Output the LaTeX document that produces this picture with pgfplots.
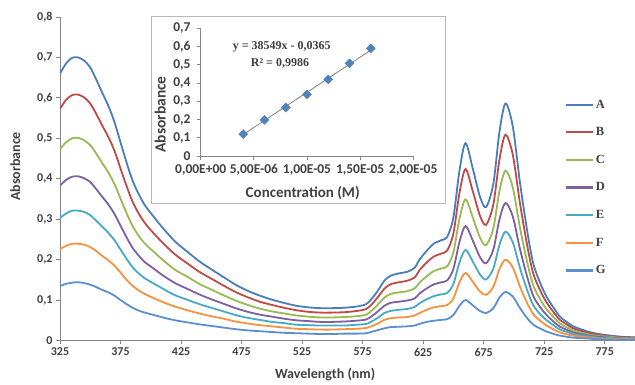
\documentclass[border=0pt]{standalone}
\usepackage{fontspec}
\setmainfont{Carlito}
\newfontfamily\tnr{Liberation Serif}
\usepackage{pgfplots}
\usepackage{pgfplotstable}
\pgfplotsset{compat=1.18}

\definecolor{serA}{HTML}{4A7EBB}
\definecolor{serB}{HTML}{BE4B48}
\definecolor{serC}{HTML}{98B954}
\definecolor{serD}{HTML}{7D60A0}
\definecolor{serE}{HTML}{46AAC5}
\definecolor{serF}{HTML}{F69240}
\definecolor{serG}{HTML}{5B8FD0}
\definecolor{axgray}{HTML}{868686}
\definecolor{txt}{HTML}{404040}
\definecolor{mk}{HTML}{4F81BD}

\pgfplotstableread{
x A B C D E F G
325 0.660 0.573 0.473 0.383 0.303 0.226 0.135
330 0.685 0.595 0.490 0.397 0.314 0.234 0.140
335 0.699 0.607 0.500 0.405 0.321 0.239 0.143
340 0.700 0.608 0.501 0.406 0.321 0.239 0.144
345 0.692 0.601 0.495 0.401 0.318 0.237 0.142
350 0.675 0.586 0.483 0.392 0.310 0.231 0.138
355 0.645 0.560 0.462 0.374 0.296 0.221 0.132
360 0.612 0.531 0.438 0.355 0.281 0.209 0.125
365 0.580 0.503 0.415 0.336 0.266 0.198 0.119
370 0.540 0.469 0.387 0.313 0.248 0.185 0.111
375 0.490 0.425 0.351 0.284 0.225 0.168 0.100
380 0.440 0.382 0.315 0.255 0.202 0.150 0.090
385 0.395 0.343 0.283 0.229 0.181 0.135 0.081
390 0.362 0.314 0.259 0.210 0.166 0.124 0.074
395 0.335 0.291 0.240 0.194 0.154 0.115 0.069
400 0.315 0.273 0.226 0.183 0.145 0.108 0.065
410 0.278 0.241 0.199 0.161 0.128 0.095 0.057
420 0.245 0.213 0.175 0.142 0.112 0.084 0.050
430 0.220 0.191 0.158 0.128 0.101 0.075 0.045
440 0.196 0.170 0.140 0.114 0.090 0.067 0.040
450 0.176 0.153 0.126 0.102 0.081 0.060 0.036
460 0.157 0.136 0.112 0.091 0.072 0.054 0.032
470 0.138 0.120 0.099 0.080 0.063 0.047 0.028
480 0.123 0.107 0.088 0.071 0.056 0.042 0.025
490 0.111 0.096 0.079 0.064 0.051 0.038 0.023
500 0.101 0.088 0.072 0.059 0.046 0.035 0.021
510 0.093 0.081 0.067 0.054 0.043 0.032 0.019
520 0.086 0.075 0.062 0.050 0.039 0.029 0.018
530 0.082 0.071 0.059 0.048 0.038 0.028 0.017
540 0.080 0.069 0.057 0.046 0.037 0.027 0.016
550 0.080 0.069 0.057 0.046 0.037 0.027 0.016
560 0.081 0.070 0.058 0.047 0.037 0.028 0.017
570 0.084 0.073 0.060 0.049 0.039 0.029 0.017
578 0.090 0.078 0.064 0.052 0.041 0.031 0.018
583 0.105 0.091 0.075 0.061 0.048 0.036 0.022
588 0.125 0.109 0.090 0.073 0.057 0.043 0.026
593 0.148 0.128 0.106 0.086 0.068 0.051 0.030
598 0.160 0.139 0.115 0.093 0.073 0.055 0.033
605 0.166 0.144 0.119 0.096 0.076 0.057 0.034
612 0.170 0.148 0.122 0.099 0.078 0.058 0.035
618 0.180 0.156 0.129 0.104 0.083 0.062 0.037
622 0.200 0.174 0.143 0.116 0.092 0.068 0.041
628 0.222 0.193 0.159 0.129 0.102 0.076 0.046
634 0.240 0.208 0.172 0.139 0.110 0.082 0.049
640 0.248 0.215 0.178 0.144 0.114 0.085 0.051
645 0.257 0.223 0.184 0.149 0.118 0.088 0.053
650 0.305 0.265 0.218 0.177 0.140 0.104 0.063
655 0.420 0.365 0.301 0.244 0.193 0.144 0.086
660 0.488 0.424 0.349 0.283 0.224 0.167 0.100
666 0.425 0.369 0.304 0.247 0.195 0.145 0.087
672 0.355 0.308 0.254 0.206 0.163 0.121 0.073
677 0.330 0.286 0.236 0.191 0.151 0.113 0.068
683 0.388 0.337 0.278 0.225 0.178 0.133 0.080
688 0.515 0.447 0.369 0.299 0.236 0.176 0.106
693 0.586 0.509 0.420 0.340 0.269 0.200 0.120
699 0.530 0.460 0.379 0.307 0.243 0.181 0.109
705 0.390 0.339 0.279 0.226 0.179 0.133 0.080
711 0.270 0.234 0.193 0.157 0.124 0.092 0.055
716 0.190 0.165 0.136 0.110 0.087 0.065 0.039
722 0.140 0.122 0.100 0.081 0.064 0.048 0.029
727 0.108 0.094 0.077 0.063 0.050 0.037 0.022
733 0.080 0.069 0.057 0.046 0.037 0.027 0.016
738 0.059 0.051 0.042 0.034 0.027 0.020 0.012
744 0.045 0.039 0.032 0.026 0.021 0.015 0.009
749 0.035 0.030 0.025 0.020 0.016 0.012 0.007
760 0.023 0.020 0.016 0.013 0.011 0.008 0.005
770 0.016 0.014 0.011 0.009 0.007 0.005 0.003
780 0.012 0.010 0.009 0.007 0.006 0.004 0.002
790 0.009 0.008 0.006 0.005 0.004 0.003 0.002
800 0.008 0.007 0.006 0.005 0.004 0.003 0.002
}\spectra

\pgfplotstableread{
c a
4e-6 0.120
6e-6 0.198
8e-6 0.266
1e-5 0.338
1.2e-5 0.420
1.4e-5 0.508
1.6e-5 0.590
}\calib

\begin{document}
\begin{tikzpicture}
\path[use as bounding box] (-60pt,-44.5pt) rectangle (575pt,340.5pt);
\begin{axis}[
  at={(0pt,0pt)}, anchor=south west,
  scale only axis, width=575pt, height=323.5pt,
  xmin=325, xmax=800, ymin=0, ymax=0.8,
  axis x line=bottom, axis y line=left,
  axis line style={axgray, line width=0.8pt, -},
  xtick={325,375,425,475,525,575,625,675,725,775},
  ytick={0,0.1,0.2,0.3,0.4,0.5,0.6,0.7,0.8},
  tick align=outside, major tick length=4pt,
  tick style={axgray, line width=0.8pt},
  ticklabel style={font=\bfseries\fontsize{12}{14}\selectfont, text=txt},
  /pgf/number format/.cd, use comma, fixed, precision=1, assume math mode=true, /pgfplots/.cd,
  xlabel={Wavelength (nm)}, ylabel={Absorbance},
  label style={font=\bfseries\fontsize{14}{16}\selectfont, text=txt},
  xlabel style={at={(axis description cs:0.461,-0.1066)}, anchor=center},
  ylabel style={at={(axis description cs:-0.078,0.538)}, anchor=center},
  legend style={draw=none, fill=none, at={(axis description cs:0.872,0.757)}, anchor=north west,
    font=\tnr\bfseries\fontsize{12.5}{14}\selectfont, text=txt, row sep=13.9pt,
    nodes={inner sep=2pt}},
  legend cell align=left,
  legend image code/.code={\draw[#1, line width=2.3pt] (0pt,0pt) -- (27pt,0pt);},
  every axis plot/.append style={line width=1.8pt, smooth, no markers},
]
\addplot[serA] table[x=x, y=A] {\spectra};
\addplot[serB] table[x=x, y=B] {\spectra};
\addplot[serC] table[x=x, y=C] {\spectra};
\addplot[serD] table[x=x, y=D] {\spectra};
\addplot[serE] table[x=x, y=E] {\spectra};
\addplot[serF] table[x=x, y=F] {\spectra};
\addplot[serG] table[x=x, y=G] {\spectra};
\legend{A,B,C,D,E,F,G}
\end{axis}

\draw[fill=white, draw=gray!55, line width=0.8pt] (91pt,137.5pt) rectangle (385pt,324.5pt);

\begin{axis}[
  at={(140.7pt,184.5pt)}, anchor=south west,
  scale only axis, width=212.6pt, height=127.7pt,
  xmin=0, xmax=2e-5, ymin=0, ymax=0.7,
  axis x line=bottom, axis y line=left,
  axis line style={axgray, line width=0.8pt, -},
  xtick={0,5e-6,1e-5,1.5e-5,2e-5},
  xticklabels={{0,00E+00},{5,00E-06},{1,00E-05},{1,50E-05},{2,00E-05}},
  scaled x ticks=false,
  ytick={0,0.1,0.2,0.3,0.4,0.5,0.6,0.7},
  tick align=outside, major tick length=4pt,
  tick style={axgray, line width=0.8pt},
  ticklabel style={font=\bfseries\fontsize{13.5}{16}\selectfont, text=txt},
  yticklabel style={xshift=-5pt, inner sep=1pt},
  xticklabel style={yshift=-3pt, inner sep=1pt},
  /pgf/number format/.cd, use comma, fixed, precision=1, assume math mode=true, /pgfplots/.cd,
  xlabel={Concentration (M)}, ylabel={Absorbance},
  xlabel style={font=\bfseries\fontsize{15}{17}\selectfont, text=txt, at={(axis description cs:0.48,-0.29)}, anchor=center},
  ylabel style={font=\bfseries\fontsize{15.5}{18}\selectfont, text=txt, at={(axis description cs:-0.19,0.325)}, anchor=center, inner sep=0pt},
]
\addplot[gray, line width=0.8pt] coordinates {(4e-6,0.1177) (1.6e-5,0.5803)};
\addplot[only marks, mark=square*, mark size=3.2pt, mark options={rotate=45, fill=mk, draw=mk}] table[x=c, y=a] {\calib};
\node[font=\tnr\bfseries\fontsize{12}{14}\selectfont, text=txt] at (axis cs:7.62e-6,0.599) {y = 38549x - 0,0365};
\node[font=\tnr\bfseries\fontsize{12}{14}\selectfont, text=txt] at (axis cs:7.46e-6,0.51) {R² = 0,9986};
\end{axis}
\end{tikzpicture}
\end{document}
